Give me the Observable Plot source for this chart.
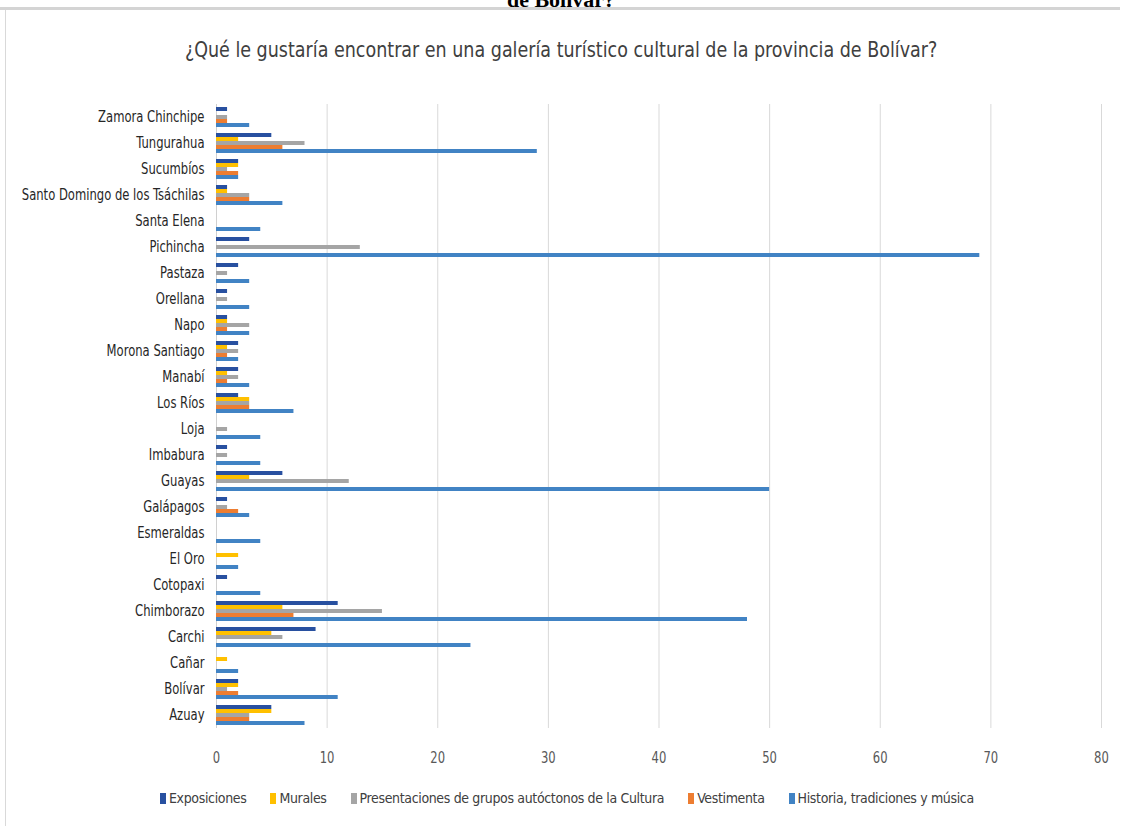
<!DOCTYPE html>
<html>
<head>
<meta charset="utf-8">
<script src="https://cdn.jsdelivr.net/npm/d3@7"></script>
<script src="https://cdn.jsdelivr.net/npm/@observablehq/plot@0.6"></script>
<style>
  html, body { margin: 0; padding: 0; background: #fff; }
  body { width: 1122px; height: 826px; position: relative; overflow: hidden;
         font-family: "DejaVu Sans Condensed", "DejaVu Sans", sans-serif; }
  #cut { position: absolute; top: -13px; left: 0; width: 1122px; text-align: center;
         font-family: "Liberation Serif", "DejaVu Serif", serif; font-weight: bold; font-size: 22px; color: #000; }
  #topline { position: absolute; top: 7px; left: 0; width: 1120px; height: 3px; background: #d4d4d4; z-index: 2; }
  #leftline { position: absolute; top: 10px; left: 5px; width: 1px; height: 816px; background: #d9d9d9; z-index: 2; }
  #title { position: absolute; top: 37px; left: 0; width: 1122px; text-align: center; }
  #title span { display: inline-block; font-size: 22px; color: #404040; transform: scaleX(0.885); transform-origin: center; white-space: nowrap; }
  #chart { position: absolute; top: 95px; left: 0; }
  #legend { position: absolute; top: 790px; left: 160px; display: flex; gap: 24px;
            font-size: 14px; letter-spacing: -0.35px; color: #404040; white-space: nowrap; }
  #legend span.sw { display: inline-block; width: 6px; height: 11px; margin-right: 3px; vertical-align: -1px; }
</style>
</head>
<body>
<div id="cut">de Bolívar?</div>
<div id="topline"></div>
<div id="leftline"></div>
<div id="title"><span>¿Qué le gustaría encontrar en una galería turístico cultural de la provincia de Bolívar?</span></div>
<div id="chart"></div>
<div id="legend"></div>
<script>
const provinces = ["Azuay","Bolívar","Cañar","Carchi","Chimborazo","Cotopaxi","El Oro","Esmeraldas","Galápagos","Guayas","Imbabura","Loja","Los Ríos","Manabí","Morona Santiago","Napo","Orellana","Pastaza","Pichincha","Santa Elena","Santo Domingo de los Tsáchilas","Sucumbíos","Tungurahua","Zamora Chinchipe"];
const seriesNames = ["Exposiciones","Murales","Presentaciones de grupos autóctonos de la Cultura","Vestimenta","Historia, tradiciones y música"];
const exposiciones   = [5,2,0,9,11,1,0,0,1,6,1,0,2,2,2,1,1,2,3,0,1,2,5,1];
const murales        = [5,2,1,5,6,0,2,0,0,3,0,0,3,1,1,1,0,0,0,0,1,2,2,0];
const presentaciones = [3,1,0,6,15,0,0,0,1,12,1,1,3,2,2,3,1,1,13,0,3,1,8,1];
const vestimenta     = [3,2,0,0,7,0,0,0,2,0,0,0,3,1,1,1,0,0,0,0,3,2,6,1];
const historia       = [8,11,2,23,48,4,2,4,3,50,4,4,7,3,2,3,3,3,69,4,6,2,29,3];
const xTicks = [0,10,20,30,40,50,60,70,80];
const colors = ["#2850a0","#ffc000","#a5a5a5","#ed7d31","#4183c4"];

const seriesValues = [exposiciones, murales, presentaciones, vestimenta, historia];
const data = [];
provinces.forEach((p, i) => {
  seriesNames.forEach((s, j) => {
    data.push({province: p, series: s, value: seriesValues[j][i]});
  });
});

const chart = Plot.plot({
  width: 1122,
  height: 690,
  marginLeft: 216,
  marginRight: 21,
  marginTop: 8,
  marginBottom: 56,
  style: {fontFamily: '"DejaVu Sans Condensed", "DejaVu Sans", sans-serif', background: "transparent"},
  fy: {domain: provinces.slice().reverse(), padding: 0, label: null},
  y: {domain: seriesNames, paddingInner: 0, paddingOuter: 0.55, axis: null},
  x: {domain: [0, 80], label: null, ticks: xTicks},
  color: {domain: seriesNames, range: colors},
  marks: [
    Plot.gridX(xTicks, {stroke: "#d9d9d9", strokeOpacity: 1}),
    Plot.ruleX([0], {stroke: "#d0d0d0"}),
    Plot.barX(data.filter(d => d.value > 0), {x: "value", y: "series", fy: "province", fill: "series", inset: 0}),
    Plot.axisFy({anchor: "left", tickSize: 0, tickPadding: 12, fontSize: 15, fill: "#262626", label: null}),
    Plot.axisX({anchor: "bottom", ticks: xTicks, tickSize: 0, tickPadding: 24, fontSize: 15, fill: "#595959", label: null})
  ]
});
// narrow the glyphs horizontally, like the reference's condensed face
chart.querySelectorAll("text").forEach(t => {
  const tr = t.getAttribute("transform") || "";
  t.setAttribute("transform", tr + " scale(0.86,1)");
});
document.getElementById("chart").appendChild(chart);

const legend = document.getElementById("legend");
seriesNames.forEach((s, j) => {
  const item = document.createElement("div");
  const sw = document.createElement("span");
  sw.className = "sw";
  sw.style.background = colors[j];
  item.appendChild(sw);
  item.appendChild(document.createTextNode(s));
  legend.appendChild(item);
});
</script>
</body>
</html>
